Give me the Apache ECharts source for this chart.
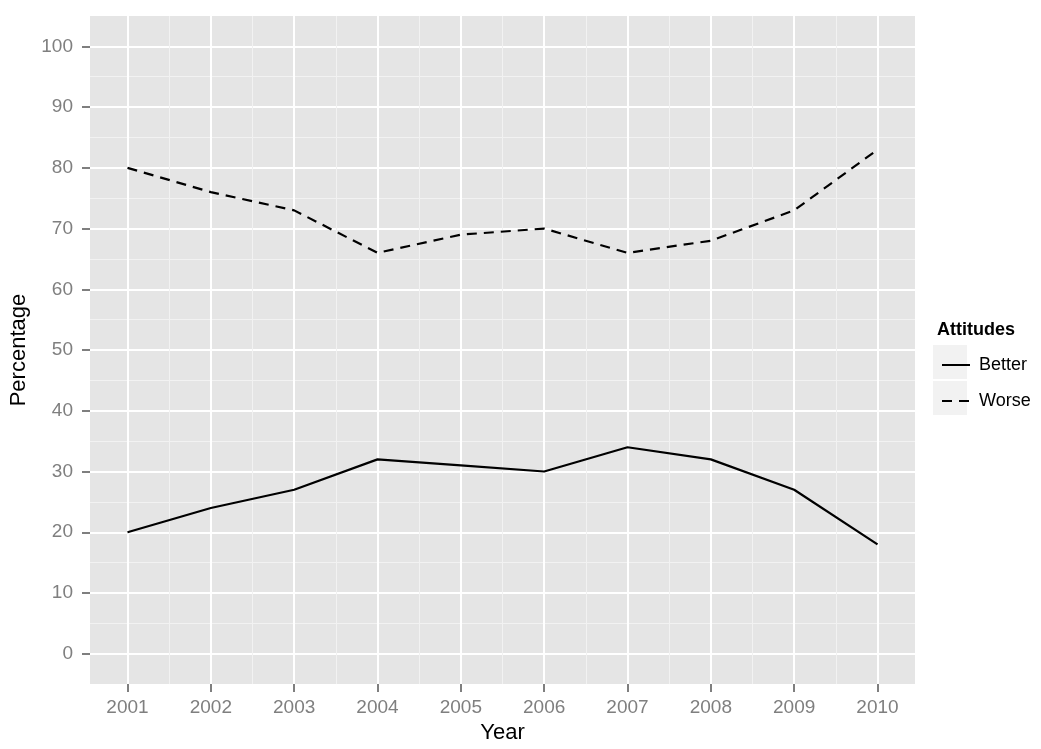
<!DOCTYPE html>
<html>
<head>
<meta charset="utf-8">
<script src="https://cdn.jsdelivr.net/npm/echarts@6/dist/echarts.min.js"></script>
<style>
  html, body { margin: 0; padding: 0; background: #fff; }
  #main { width: 1041px; height: 749px; }
</style>
</head>
<body>
<div id="main"></div>
<script>
// data
var years = [2001, 2002, 2003, 2004, 2005, 2006, 2007, 2008, 2009, 2010];
var better = [20, 24, 27, 32, 31, 30, 34, 32, 27, 18];
var worse = [80, 76, 73, 66, 69, 70, 66, 68, 73, 83];
var yTicks = [0, 10, 20, 30, 40, 50, 60, 70, 80, 90, 100];
var yMinor = [5, 15, 25, 35, 45, 55, 65, 75, 85, 95];
var xMinor = [2001.5, 2002.5, 2003.5, 2004.5, 2005.5, 2006.5, 2007.5, 2008.5, 2009.5];

var font = '"Liberation Sans", Arial, Helvetica, sans-serif';
var tickGray = '#7f7f7f';

function pairs(vals) {
    return years.map(function (y, i) { return [y, vals[i]]; });
}

// hidden axis carrying only the minor grid lines
function minorAxis(values, min, max, pos) {
    return {
        type: 'value', min: min, max: max, position: pos,
        axisLine: { show: false, onZero: false },
        axisTick: { show: false, customValues: values },
        axisLabel: { show: false, customValues: values },
        splitLine: { show: true, lineStyle: { color: '#f2f2f2', width: 1 } }
    };
}

var chart = echarts.init(document.getElementById('main'));

chart.setOption({
    backgroundColor: '#fff',
    animation: false,
    textStyle: { fontFamily: font },
    grid: {
        left: 90, right: 126, top: 16, bottom: 59,
        show: true, backgroundColor: '#e5e5e5', borderWidth: 0
    },
    title: {
        text: 'Attitudes', left: 932, top: 316,
        textStyle: { fontFamily: font, fontSize: 18, fontWeight: 'bold', color: '#000' }
    },
    graphic: [
        { type: 'rect', left: 933, top: 345, shape: { width: 34, height: 34 }, style: { fill: '#f2f2f2' }, z: 1 },
        { type: 'rect', left: 933, top: 381, shape: { width: 34, height: 34 }, style: { fill: '#f2f2f2' }, z: 1 }
    ],
    legend: {
        orient: 'vertical', left: 936, top: 351,
        itemWidth: 28, itemHeight: 14, itemGap: 18,
        icon: 'inherit',
        itemStyle: { opacity: 0 },
        textStyle: { fontFamily: font, fontSize: 18, color: '#000', padding: [0, 0, 0, 4] },
        data: ['Better', 'Worse'],
        z: 5
    },
    xAxis: [
        minorAxis(xMinor, 2000.55, 2010.45, 'top'),
        {
            type: 'value', min: 2000.55, max: 2010.45, position: 'bottom',
            name: 'Year', nameLocation: 'middle', nameGap: 36,
            nameTextStyle: { fontFamily: font, fontSize: 22, color: '#000' },
            axisLine: { show: false, onZero: false },
            axisTick: { show: true, length: 8, customValues: years, lineStyle: { color: tickGray, width: 2 } },
            axisLabel: {
                customValues: years, margin: 14, fontSize: 19, color: tickGray, fontFamily: font,
                formatter: function (v) { return String(v); }
            },
            splitLine: { show: true, lineStyle: { color: '#fff', width: 2 } }
        }
    ],
    yAxis: [
        minorAxis(yMinor, -5, 105, 'right'),
        {
            type: 'value', min: -5, max: 105, position: 'left',
            name: 'Percentage', nameLocation: 'middle', nameGap: 53, nameRotate: 90,
            nameTextStyle: { fontFamily: font, fontSize: 22, color: '#000' },
            axisLine: { show: false, onZero: false },
            axisTick: { show: true, length: 8, customValues: yTicks, lineStyle: { color: tickGray, width: 2 } },
            axisLabel: { customValues: yTicks, margin: 17, fontSize: 19, color: tickGray, fontFamily: font },
            splitLine: { show: true, lineStyle: { color: '#fff', width: 2 } }
        }
    ],
    series: [
        {
            name: 'Better', type: 'line', xAxisIndex: 1, yAxisIndex: 1,
            data: pairs(better), symbol: 'none', showSymbol: false,
            lineStyle: { color: '#000', width: 2.2, type: 'solid' },
            itemStyle: { color: '#000' }, z: 3
        },
        {
            name: 'Worse', type: 'line', xAxisIndex: 1, yAxisIndex: 1,
            data: pairs(worse), symbol: 'none', showSymbol: false,
            lineStyle: { color: '#000', width: 2.2, type: [10, 7] },
            itemStyle: { color: '#000' }, z: 3
        }
    ]
});
</script>
</body>
</html>
